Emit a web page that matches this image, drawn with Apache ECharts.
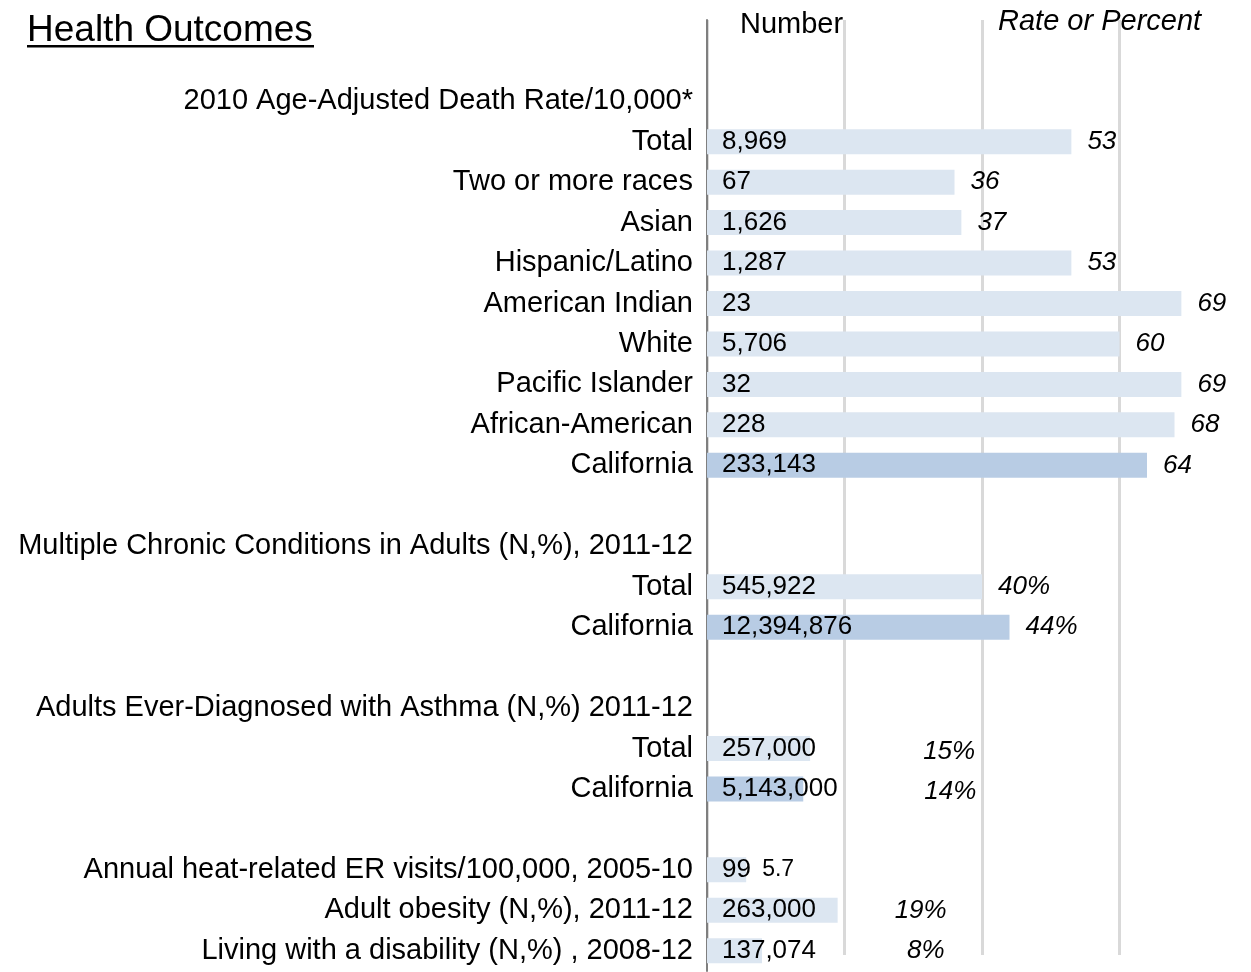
<!DOCTYPE html>
<html>
<head>
<meta charset="utf-8">
<script src="https://cdn.jsdelivr.net/npm/echarts@6/dist/echarts.min.js"></script>
<style>
html, body { margin: 0; padding: 0; background: #fff; }
#main { width: 1251px; height: 972px; }
</style>
</head>
<body>
<div id="main"></div>
<script>
// rows top to bottom (headers have no bar)
var rowLabels = [
  '2010 Age-Adjusted Death Rate/10,000*',
  'Total', 'Two or more races', 'Asian', 'Hispanic/Latino', 'American Indian',
  'White', 'Pacific Islander', 'African-American', 'California',
  '',
  'Multiple Chronic Conditions in Adults (N,%), 2011-12',
  'Total', 'California',
  '',
  'Adults Ever-Diagnosed with Asthma (N,%) 2011-12',
  'Total', 'California',
  '',
  'Annual heat-related ER visits/100,000, 2005-10',
  'Adult obesity (N,%), 2011-12',
  'Living with a disability (N,%) , 2008-12'
];
var rateValues = [null, 53, 36, 37, 53, 69, 60, 69, 68, 64, null, null, 40, 44, null, null, 15, 14, null, 5.7, 19, 8];
var numberText = ['', '8,969', '67', '1,626', '1,287', '23', '5,706', '32', '228', '233,143', '', '',
  '545,922', '12,394,876', '', '', '257,000', '5,143,000', '', '99', '263,000', '137,074'];
var rateText = ['', '53', '36', '37', '53', '69', '60', '69', '68', '64', '', '',
  '40%', '44%', '', '', '15%', '14%', '', '5.7', '19%', '8%'];

// label nudges for the rows where the rate sits in its own column
var rateShift = { 16: [97, 3], 17: [105, 3], 20: [41, 0], 21: [129, 0] };

var FONT = '"Liberation Sans", Arial, sans-serif';
var lightBar = '#dce6f1';
var darkBar = '#b8cce4';

var barData = rateValues.map(function (v, i) {
  if (v == null) return '-';
  return { value: v, itemStyle: { color: rowLabels[i] === 'California' ? darkBar : lightBar } };
});

var rateData = rateValues.map(function (v, i) {
  if (v == null) return '-';
  var item = { value: v };
  var lab = {};
  if (rateShift[i]) lab.offset = rateShift[i];
  if (rateText[i] === '5.7') { lab.fontStyle = 'normal'; lab.fontSize = 23; }
  item.label = lab;
  return item;
});

var myChart = echarts.init(document.getElementById('main'));
myChart.setOption({
  animation: false,
  graphic: [
    { type: 'text', left: 27, top: 12, style: { text: 'Health Outcomes', font: '37px ' + FONT, fill: '#000' } },
    { type: 'rect', shape: { x: 27, y: 45, width: 287, height: 2.5 }, style: { fill: '#000' } },
    { type: 'text', left: 740, top: 10, style: { text: 'Number', font: '29px ' + FONT, fill: '#000' } },
    { type: 'text', left: 998, top: 7, style: { text: 'Rate or Percent', font: 'italic 29px ' + FONT, fill: '#000' } }
  ],
  grid: [
    { left: 707, width: 550, top: 81, bottom: 1, outerBoundsMode: 'none' },
    { left: 707, width: 550, top: 20, bottom: 17, outerBoundsMode: 'none' }
  ],
  xAxis: [
    { gridIndex: 0, type: 'value', min: 0, max: 80, interval: 20, show: false },
    {
      gridIndex: 1, type: 'value', min: 0, max: 80, interval: 20,
      axisLine: { show: false }, axisTick: { show: false }, axisLabel: { show: false },
      splitLine: { show: true, lineStyle: { color: '#d9d9d9', width: 3 } }
    }
  ],
  yAxis: [
    {
      gridIndex: 0, type: 'category', inverse: true, data: rowLabels,
      axisLine: { show: true, lineStyle: { color: '#7f7f7f', width: 2 } },
      axisTick: { show: false },
      axisLabel: { color: '#000', fontSize: 29, fontFamily: FONT, margin: 14 }
    },
    {
      gridIndex: 1, type: 'value', min: 0, max: 1,
      axisLine: { show: true, lineStyle: { color: '#7f7f7f', width: 2 } },
      axisTick: { show: false }, axisLabel: { show: false }, splitLine: { show: false }
    }
  ],
  series: [
    {
      type: 'bar', xAxisIndex: 0, yAxisIndex: 0, barWidth: 25, silent: true,
      data: barData,
      label: {
        show: true, position: 'insideLeft', distance: 15,
        color: '#000', fontSize: 26, fontFamily: FONT,
        formatter: function (p) { return numberText[p.dataIndex]; }
      }
    },
    {
      type: 'bar', xAxisIndex: 0, yAxisIndex: 0, barWidth: 25, barGap: '-100%', silent: true,
      itemStyle: { color: 'rgba(0,0,0,0)' },
      data: rateData,
      label: {
        show: true, position: 'right', distance: 16,
        color: '#000', fontSize: 26, fontStyle: 'italic', fontFamily: FONT,
        formatter: function (p) { return rateText[p.dataIndex]; }
      }
    }
  ]
});
</script>
</body>
</html>
